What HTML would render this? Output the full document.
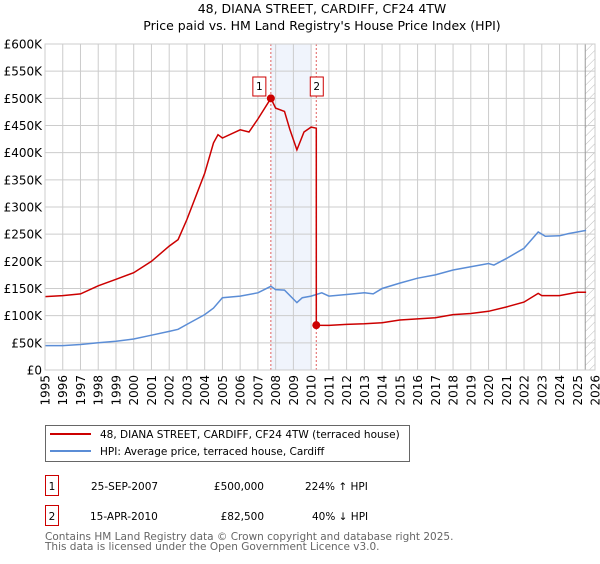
<!DOCTYPE html>
<html><head><meta charset="utf-8"><style>
body{margin:0;background:#fff;font-family:"DejaVu Sans","Liberation Sans",sans-serif;}
svg text{font-family:"DejaVu Sans","Liberation Sans",sans-serif;}
</style></head><body>
<svg id="chart" width="600" height="560" xmlns="http://www.w3.org/2000/svg">
<text x="322" y="13" text-anchor="middle" font-size="12.5">48, DIANA STREET, CARDIFF, CF24 4TW</text>
<text x="322" y="30" text-anchor="middle" font-size="12.5">Price paid vs. HM Land Registry's House Price Index (HPI)</text>
<g id="plot"></g>
<g>
<rect x="45.5" y="425.5" width="364" height="36" fill="#fff" stroke="#666"/>
<line x1="50" y1="434" x2="91" y2="434" stroke="#cc0000" stroke-width="2"/>
<text x="100" y="438" font-size="10.5">48, DIANA STREET, CARDIFF, CF24 4TW (terraced house)</text>
<line x1="50" y1="451" x2="91" y2="451" stroke="#5b8dd6" stroke-width="2"/>
<text x="100" y="455" font-size="10.5">HPI: Average price, terraced house, Cardiff</text>
</g>
<g font-size="10.5">
<rect x="45.5" y="475.5" width="13" height="20" fill="#fff" stroke="#cc0000"/>
<text x="52" y="490" text-anchor="middle">1</text>
<text x="91" y="490">25-SEP-2007</text>
<text x="264" y="490" text-anchor="end">£500,000</text>
<text x="305" y="490">224% ↑ HPI</text>
<rect x="45.5" y="505.5" width="13" height="20" fill="#fff" stroke="#cc0000"/>
<text x="52" y="520" text-anchor="middle">2</text>
<text x="90" y="520">15-APR-2010</text>
<text x="264" y="520" text-anchor="end">£82,500</text>
<text x="312" y="520">40% ↓ HPI</text>
</g>
<text x="45" y="540" font-size="10.5" fill="#666">Contains HM Land Registry data © Crown copyright and database right 2025.</text>
<text x="45" y="550" font-size="10.5" fill="#666">This data is licensed under the Open Government Licence v3.0.</text>
</svg>
<script>
const hpiYears=[1995,1996,1997,1998,1999,2000,2001,2002,2002.5,2003,2004,2004.5,2005,2006,2007,2007.73,2008,2008.5,2009.2,2009.5,2010,2010.6,2011,2012,2013,2013.5,2014,2015,2016,2017,2018,2019,2020,2020.3,2021,2022,2022.8,2023.2,2024,2024.5,2025.5];
const hpiValues=[45,45,47,50,53,57,64,71,75,84,102,114,133,136,142,154,148,147,124,133,136,142,136,139,142,140,150,160,169,175,184,190,196,193,205,224,254,246,247,251,257];
const redYears=[1995,1996,1997,1998,1999,2000,2001,2002,2002.5,2003,2004,2004.5,2004.75,2005,2006,2006.5,2007,2007.73,2008,2008.5,2008.8,2009.2,2009.6,2010,2010.29,2010.29,2011,2012,2013,2014,2015,2016,2017,2018,2019,2020,2021,2022,2022.8,2023,2024,2025,2025.5];
const redValues=[135,137,140,155,167,179,200,228,240,277,362,418,433,427,442,438,462,500,482,476,443,405,438,447,445,82.5,82,84,85,87,92,94,96,102,104,108,116,125,141,137,137,143,143];
const saleYears=[2007.73,2010.29];
const saleValues=[500,82.5];
const saleLabels=["1","2"];
const yTicks=[0,50,100,150,200,250,300,350,400,450,500,550,600];
const yTickLabels=["£0","£50K","£100K","£150K","£200K","£250K","£300K","£350K","£400K","£450K","£500K","£550K","£600K"];
const xTicks=[1995,1996,1997,1998,1999,2000,2001,2002,2003,2004,2005,2006,2007,2008,2009,2010,2011,2012,2013,2014,2015,2016,2017,2018,2019,2020,2021,2022,2023,2024,2025,2026];

const L=45,R=595,T=44,B=370,X0=1995,X1=2026,YMAX=600;
const xs=v=>L+(v-X0)/(X1-X0)*(R-L);
const ys=v=>B-v/YMAX*(B-T);
const NS="http://www.w3.org/2000/svg";
const g=document.getElementById('plot');
function mk(t,a){const e=document.createElementNS(NS,t);for(const k in a)e.setAttribute(k,a[k]);g.appendChild(e);return e;}
let sh=mk('rect',{x:xs(saleYears[0]),y:T,width:xs(2010)-xs(saleYears[0]),height:B-T,fill:'#f0f4fc'});


const defs=document.createElementNS(NS,'defs');defs.innerHTML='<pattern id="hatch" width="6" height="6" patternUnits="userSpaceOnUse" patternTransform="rotate(45)"><line x1="0" y1="0" x2="0" y2="6" stroke="#bbb" stroke-width="1"/></pattern>';g.appendChild(defs);
let ht=mk('rect',{x:xs(2025.45),y:T,width:R-xs(2025.45),height:B-T,fill:'url(#hatch)'});


yTicks.forEach((v,i)=>{
  let l=mk('line',{x1:L,x2:R,y1:ys(v),y2:ys(v),stroke:'#ccc','stroke-width':1});
  
  
  let t=mk('text',{x:L-3,y:ys(v)+4.5,'text-anchor':'end','font-size':12});
  
  
  t.textContent=yTickLabels[i];
});
xTicks.forEach(v=>{
  let l=mk('line',{x1:xs(v),x2:xs(v),y1:T,y2:B,stroke:'#ccc','stroke-width':1});
  
  
  let t=mk('text',{x:0,y:0,'text-anchor':'end','font-size':12,transform:`translate(${xs(v)+4.5},${B+5}) rotate(-90)`});
  
  
  t.textContent=v;
});
let fl=mk('line',{x1:xs(2025.45),x2:xs(2025.45),y1:T,y2:B,stroke:'#999'});


saleYears.forEach(v=>{
  let l=mk('line',{x1:xs(v),x2:xs(v),y1:T,y2:B,stroke:'#e06060','stroke-dasharray':'2,2','stroke-width':1});
  
  
});
const pts=(xa,va)=>xa.map((x,i)=>xs(x).toFixed(1)+','+ys(va[i]).toFixed(1)).join(' ');
let hp=mk('polyline',{points:pts(hpiYears,hpiValues),fill:'none',stroke:'#5b8dd6','stroke-width':1.5});


let rp=mk('polyline',{points:pts(redYears,redValues),fill:'none',stroke:'#cc0000','stroke-width':1.5});


saleYears.forEach((v,i)=>{
  let c=mk('circle',{cx:xs(v),cy:ys(saleValues[i]),r:4,fill:'#cc0000'});
  
  
  let bx=mk('rect',{x:xs(v)-(i==0?11:-1)-7,y:77,width:13,height:19,fill:'#fff',stroke:'#cc0000'});
  
  
  let t=mk('text',{x:xs(v)-(i==0?11:-1)-0.5,y:90,'text-anchor':'middle','font-size':10.5});
  
  
  t.textContent=saleLabels[i];
});
let fr=mk('rect',{x:L,y:T,width:R-L,height:B-T,fill:'none',stroke:'#ccc'});


</script>
</body></html>
